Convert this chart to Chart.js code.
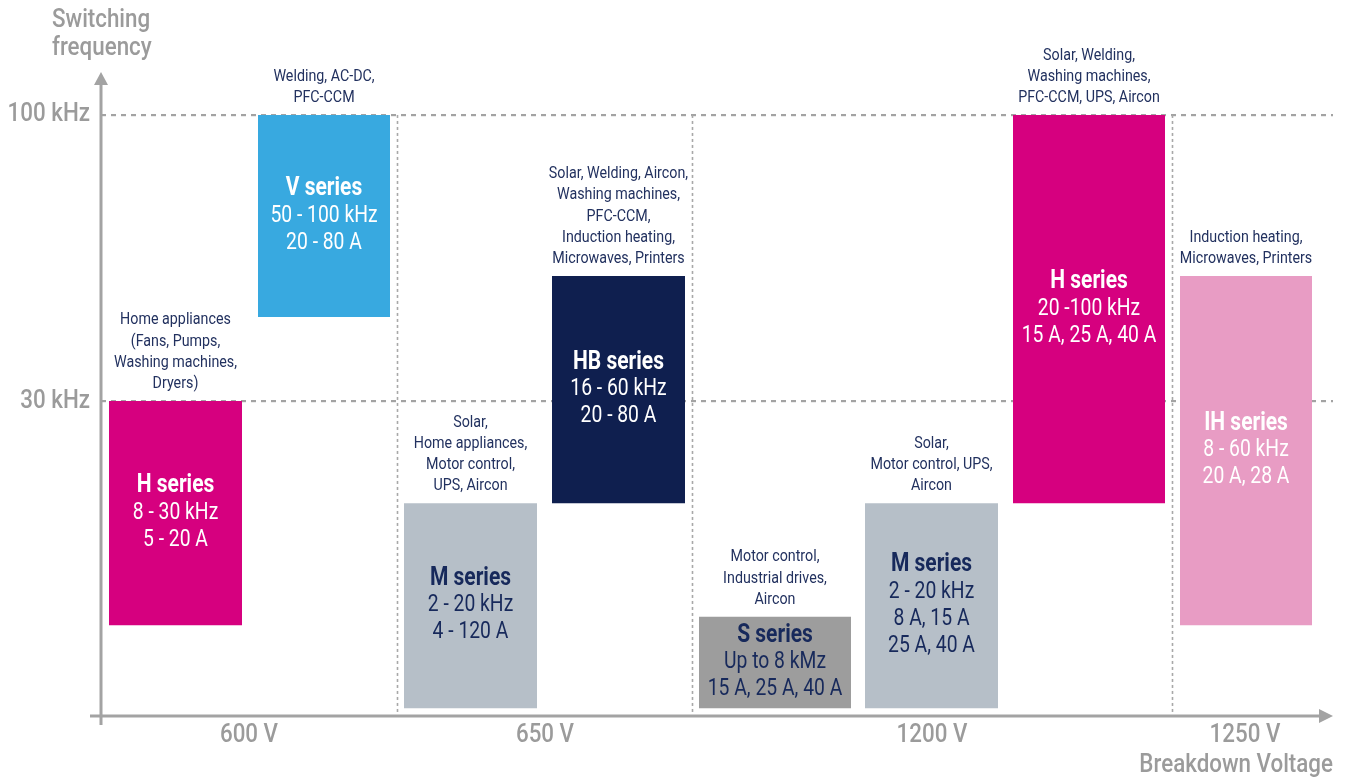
<!DOCTYPE html>
<html lang="en">
<head>
  <meta charset="UTF-8" />
  <title>IGBT series by breakdown voltage and switching frequency</title>
  <script src="https://cdn.jsdelivr.net/npm/chart.js"></script>
  <style>
    body { margin: 0; padding: 0; background: #fff; }
    .wrap { width: 1348px; height: 780px; position: relative; }
  </style>
</head>
<body>
  <div class="wrap"><canvas id="chart"></canvas></div>

  <script>
    // series boxes, left to right
    const seriesNames = ['H series', 'V series', 'M series', 'HB series', 'S series', 'M series', 'H series', 'IH series'];
    const freqText = ['8 - 30 kHz', '50 - 100 kHz', '2 - 20 kHz', '16 - 60 kHz', 'Up to 8 kMz', '2 - 20 kHz', '20 -100 kHz', '8 - 60 kHz'];
    const currentText = [['5 - 20 A'], ['20 - 80 A'], ['4 - 120 A'], ['20 - 80 A'], ['15 A, 25 A, 40 A'], ['8 A, 15 A', '25 A, 40 A'], ['15 A, 25 A, 40 A'], ['20 A, 28 A']];
    const applications = [
      ['Home appliances', '(Fans, Pumps,', 'Washing machines,', 'Dryers)'],
      ['Welding, AC-DC,', 'PFC-CCM'],
      ['Solar,', 'Home appliances,', 'Motor control,', 'UPS, Aircon'],
      ['Solar, Welding, Aircon,', 'Washing machines,', 'PFC-CCM,', 'Induction heating,', 'Microwaves, Printers'],
      ['Motor control,', 'Industrial drives,', 'Aircon'],
      ['Solar,', 'Motor control, UPS,', 'Aircon'],
      ['Solar, Welding,', 'Washing machines,', 'PFC-CCM, UPS, Aircon'],
      ['Induction heating,', 'Microwaves, Printers']
    ];
    // position along the voltage axis (schematic units)
    const xStart = [0.8, 15.7, 30.3, 45.1, 59.8, 76.4, 91.2, 107.9];
    const xEnd = [14.1, 28.9, 43.6, 58.4, 75.0, 89.7, 106.4, 121.1];
    // position along the frequency axis (schematic units, 100 kHz level = 100)
    const yLow = [15.1, 66.4, 1.3, 35.4, 1.3, 1.3, 35.4, 15.1];
    const yHigh = [52.4, 100, 35.4, 73.2, 16.5, 35.4, 100, 73.2];

    const voltTicks = [14.8, 44.4, 83.1, 114.4];
    const voltLabels = ['600 V', '650 V', '1200 V', '1250 V'];
    const voltBounds = [29.6, 59.1, 107.1];
    const freqTicks = [52.4, 100];
    const freqLabels = ['30 kHz', '100 kHz'];

    const boxColors = ['#d6007f', '#38a9e0', '#b6bfc8', '#0f1f4f', '#9d9d9d', '#b6bfc8', '#d6007f', '#e89cc4'];
    const boxTextColors = ['#fff', '#fff', '#17295b', '#fff', '#17295b', '#17295b', '#fff', '#fff'];

    const FONT = "Roboto, 'Liberation Sans', sans-serif";
    const SQ = 0.84; // horizontal squeeze to get a condensed face
    const GREY = '#9b9b9b';
    const NAVY = '#22315f';

    function narrowText(ctx, text, x, y, align, sq) {
      ctx.save();
      ctx.translate(x, y);
      ctx.scale(sq || SQ, 1);
      ctx.textAlign = align || 'center';
      ctx.fillText(text, 0, 0);
      ctx.restore();
    }

    const datasets = seriesNames.map((name, i) => ({
      label: name,
      data: [{ x: xStart[i], y: yHigh[i] }, { x: xEnd[i], y: yHigh[i] }],
      borderWidth: 0,
      borderColor: 'rgba(0,0,0,0)',
      backgroundColor: boxColors[i],
      fill: { value: yLow[i] },
      pointRadius: 0,
      tension: 0
    }));

    const decorations = {
      id: 'decorations',
      beforeDatasetsDraw(chart) {
        const { ctx, scales: { x, y } } = chart;
        ctx.save();
        ctx.strokeStyle = '#a8a8a8';
        ctx.lineWidth = 1.6;
        ctx.setLineDash([3, 3]);
        voltBounds.forEach(v => {
          const px = Math.round(x.getPixelForValue(v)) + 0.5;
          ctx.beginPath();
          ctx.moveTo(px, y.getPixelForValue(100));
          ctx.lineTo(px, y.getPixelForValue(0));
          ctx.stroke();
        });
        ctx.restore();
      },
      afterDatasetsDraw(chart) {
        const { ctx, scales: { x, y } } = chart;
        ctx.save();
        ctx.textBaseline = 'middle';
        seriesNames.forEach((name, i) => {
          const left = x.getPixelForValue(xStart[i]);
          const right = x.getPixelForValue(xEnd[i]);
          const top = y.getPixelForValue(yHigh[i]);
          const bottom = y.getPixelForValue(yLow[i]);
          const cx = (left + right) / 2;
          const lines = [name, freqText[i]].concat(currentText[i]);
          const step = 27;
          const ly = (top + bottom) / 2 - (lines.length - 1) * step / 2;
          ctx.fillStyle = boxTextColors[i];
          lines.forEach((t, k) => {
            ctx.font = (k === 0 ? 'bold 25px ' : '23px ') + FONT;
            narrowText(ctx, t, cx, ly + k * step);
          });
          // applications above the box
          ctx.fillStyle = NAVY;
          ctx.font = '17px ' + FONT;
          const app = applications[i];
          app.forEach((t, k) => {
            narrowText(ctx, t, cx, top - 17 - (app.length - 1 - k) * 21.3);
          });
        });
        ctx.restore();
      },
      afterDraw(chart) {
        const { ctx, scales: { x, y } } = chart;
        const x0 = x.getPixelForValue(0);
        const y0 = y.getPixelForValue(0);
        const xTip = chart.chartArea.right;
        const yTip = chart.chartArea.top;
        ctx.save();
        ctx.strokeStyle = '#a3a3a3';
        ctx.fillStyle = '#a3a3a3';
        ctx.lineWidth = 3;
        ctx.beginPath();
        ctx.moveTo(x0 - 11, y0);
        ctx.lineTo(xTip - 12, y0);
        ctx.moveTo(x0, y0 + 9);
        ctx.lineTo(x0, yTip + 12);
        ctx.stroke();
        ctx.beginPath();
        ctx.moveTo(xTip, y0);
        ctx.lineTo(xTip - 14, y0 - 7);
        ctx.lineTo(xTip - 14, y0 + 7);
        ctx.closePath();
        ctx.fill();
        ctx.beginPath();
        ctx.moveTo(x0, yTip);
        ctx.lineTo(x0 - 7, yTip + 13);
        ctx.lineTo(x0 + 7, yTip + 13);
        ctx.closePath();
        ctx.fill();

        // tick labels at the library's tick positions
        ctx.fillStyle = GREY;
        ctx.font = '500 26px ' + FONT;
        ctx.textBaseline = 'middle';
        x.ticks.forEach((t, i) => narrowText(ctx, voltLabels[i], x.getPixelForValue(t.value), y0 + 19, 'center', 0.86));
        y.ticks.forEach((t, i) => narrowText(ctx, freqLabels[i], x0 - 11, y.getPixelForValue(t.value), 'right', 0.86));

        // axis titles
        narrowText(ctx, 'Switching', 52, 20, 'left', 0.86);
        narrowText(ctx, 'frequency', 52, 48, 'left', 0.86);
        narrowText(ctx, 'Breakdown Voltage', xTip, 765, 'right', 0.86);
        ctx.restore();
      }
    };

    new Chart(document.getElementById('chart'), {
      type: 'line',
      data: { datasets },
      options: {
        responsive: true,
        maintainAspectRatio: false,
        animation: false,
        layout: { padding: { top: 72, right: 15, left: 0, bottom: 0 } },
        plugins: { legend: { display: false }, tooltip: { enabled: false } },
        scales: {
          x: {
            type: 'linear',
            min: 0,
            max: 123.2,
            grid: { display: false },
            border: { display: false },
            afterBuildTicks: s => { s.ticks = voltTicks.map(v => ({ value: v })); },
            afterFit: s => { s.height = 64; },
            ticks: { display: false }
          },
          y: {
            type: 'linear',
            min: 0,
            max: 107.15,
            grid: { color: '#a3a3a3', lineWidth: 2.2, drawTicks: false },
            border: { display: false, dash: [5, 5] },
            afterBuildTicks: s => { s.ticks = freqTicks.map(v => ({ value: v })); },
            afterFit: s => { s.width = 101; },
            ticks: { display: false }
          }
        }
      },
      plugins: [decorations]
    });
  </script>
</body>
</html>
